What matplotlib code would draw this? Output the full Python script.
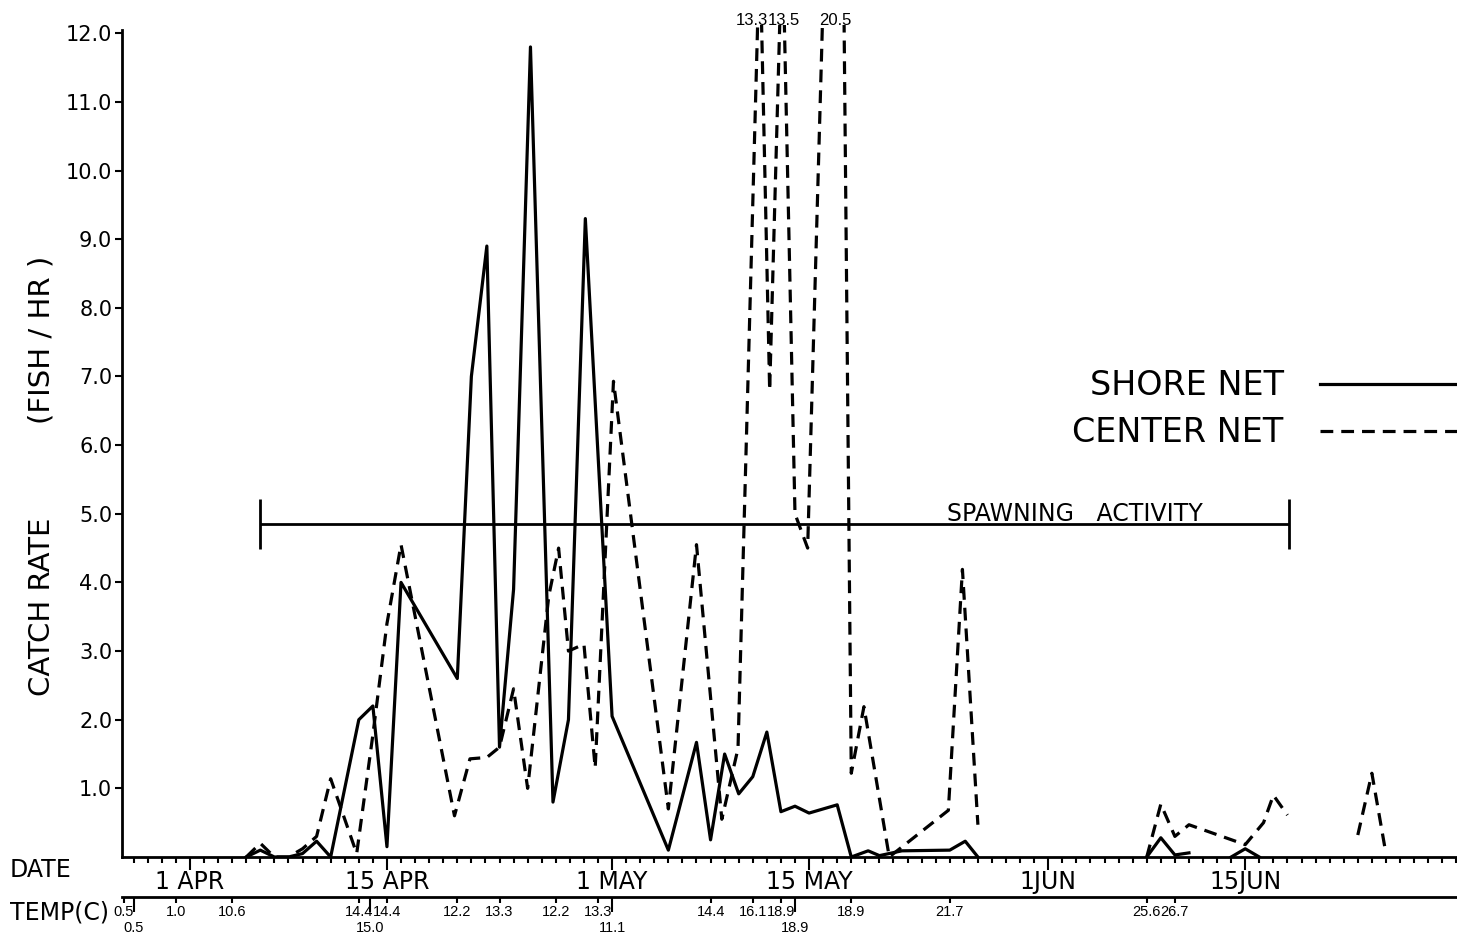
import numpy as np
import matplotlib
matplotlib.use('Agg')
import matplotlib.pyplot as plt

# x values are days counted from 1 April
shore_days = [4, 5, 6, 7, 8, 9, 10, 12, 13, 14, 15, 19, 20, 21.1, 22, 23, 24.2, 25.8, 26.9, 28.1,
              30, 34, 36, 37, 38, 39, 40, 41, 42, 43, 44, 46, 47, 48.2, 49, 50.6, 54, 55.1, 56,
              np.nan, 68, 69, 70, 71, np.nan, 74, 75, 76]
shore_rate = [0, 0.1, 0, 0, 0.05, 0.23, 0, 2.0, 2.2, 0.15, 4.0, 2.6, 7.0, 8.9, 1.6, 3.9, 11.8, 0.8, 2.0, 9.3,
              2.05, 0.1, 1.67, 0.25, 1.5, 0.92, 1.17, 1.82, 0.66, 0.74, 0.64, 0.76, 0, 0.09, 0.02, 0.09, 0.1, 0.23, 0,
              np.nan, 0, 0.28, 0.03, 0.06, np.nan, 0, 0.12, 0]

center_days = [4, 5, 6, 7, 8, 9, 10, 11.85, 13, 14, 15, 18.8, 19.9, 21.1, 22, 23, 24, 25.5, 26.2, 26.9,
               28, 28.8, 30.1, 34, 36, 37.8, 38.95, 40.5, 41.2, 42.1, 43, 43.9, 46.1, 47, 47.9, 49.7,
               53.9, 54.9, 56, np.nan, 68, 69, 70, 71, 75, 76.3, 77, 78, np.nan, 83, 84, 85]
center_rate = [0, 0.2, 0, 0, 0.12, 0.3, 1.14, 0.05, 1.78, 3.4, 4.55, 0.6, 1.43, 1.45, 1.6, 2.45, 1.0, 3.8, 4.5, 3.0,
               3.1, 1.3, 6.93, 0.7, 4.55, 0.55, 1.58, 13.3, 6.8, 13.5, 5.0, 4.5, 20.5, 1.22, 2.19, 0,
               0.68, 4.19, 0.47, np.nan, 0, 0.77, 0.3, 0.47, 0.18, 0.5, 0.9, 0.61, np.nan, 0.32, 1.22, 0.05]

# values above the top of the scale, written over their peaks
offscale_days = [40.5, 42.1, 46.1]
offscale_labels = ['13.3', '13.5', '20.5']
offscale_shift = [-8, 2, -3]   # px, to keep the labels apart

date_ticks = [0, 14, 30, 44, 61, 75]
date_labels = ['1 APR', '15 APR', '1 MAY', '15 MAY', '1JUN', '15JUN']

temp_days = [-4.7, -1, 3, 12, 14, 19, 22, 26, 29, 37, 40, 42, 47, 54, 68, 70]
temp_labels = ['0.5', '1.0', '10.6', '14.4', '14.4', '12.2', '13.3', '12.2', '13.3', '14.4',
               '16.1', '18.9', '18.9', '21.7', '25.6', '26.7']
temp_low_days = [-4.0, 12.8, 30, 43]
temp_low_labels = ['0.5', '15.0', '11.1', '18.9']

spawn_start = 5
spawn_end = 78.1
spawn_level = 4.85

W, H = 1457, 947
fig = plt.figure(figsize=(W / 100, H / 100), dpi=100)
ax = fig.add_axes([122 / W, 1 - 857 / H, 1 - 122 / W, (857 - 25) / H])

ax.plot(shore_days, shore_rate, color='black', lw=2.3, solid_joinstyle='round')
ax.plot(center_days, center_rate, color='black', lw=2.3, dashes=(4, 2.5),
        dash_joinstyle='round')

ax.set_xlim(-4.83, 90.05)
ax.set_ylim(0, 12.12)

for d, lab, sh in zip(offscale_days, offscale_labels, offscale_shift):
    ax.annotate(lab, (d, 12.12), xytext=(sh * 0.72, 3), textcoords='offset points',
                ha='center', va='center', fontsize=12, family='Liberation Sans',
                annotation_clip=False)

# spawning bar
ax.hlines(spawn_level, spawn_start, spawn_end, color='black', lw=2)
ax.vlines([spawn_start, spawn_end], spawn_level - 0.37, spawn_level + 0.37, color='black', lw=2)
ax.text(62.9, spawn_level + 0.14, 'SPAWNING   ACTIVITY', ha='center', va='center', fontsize=17)

for s in ['top', 'right']:
    ax.spines[s].set_visible(False)
for s in ['left', 'bottom']:
    ax.spines[s].set_linewidth(2)
ax.spines['left'].set_bounds(0, 12.05)

ax.set_yticks(range(1, 13))
ax.set_yticklabels(['%.1f' % v for v in range(1, 13)])
ax.tick_params(axis='y', length=5, width=1.5, labelsize=15, pad=2)

ax.set_xticks(date_ticks)
ax.set_xticklabels(date_labels)
ax.set_xticks(np.arange(-4, 91), minor=True)
ax.tick_params(axis='x', which='major', length=9.5, width=1.5, labelsize=17, pad=0)
ax.tick_params(axis='x', which='minor', length=4.5, width=1.5)

ax.legend(['SHORE NET', 'CENTER NET'], markerfirst=False, frameon=False, fontsize=24,
          handlelength=4.1, handletextpad=1.1, labelspacing=0.42, borderpad=0,
          borderaxespad=0, loc='center right', bbox_to_anchor=(1.0, 0.538))

# temperature axis
axt = fig.add_axes([122 / W, 1 - 897 / H, 1 - 122 / W, 0.0001])
axt.set_xlim(ax.get_xlim())
axt.set_yticks([])
axt.patch.set_visible(False)
for s in ['top', 'right', 'left']:
    axt.spines[s].set_visible(False)
axt.spines['bottom'].set_linewidth(2)
axt.set_xticks(temp_days)
axt.set_xticklabels(temp_labels)
axt.set_xticks(temp_low_days, minor=True)
axt.set_xticklabels(temp_low_labels, minor=True)
axt.tick_params(axis='x', which='major', length=4, width=1.5, labelsize=10.5, pad=2)
axt.tick_params(axis='x', which='minor', length=11, width=1.5, labelsize=10.5, pad=6)
for lab in axt.get_xticklabels(which='both'):
    lab.set_family('Liberation Sans')

fig.text(10 / W, 1 - 870 / H, 'DATE', fontsize=17, va='center')
fig.text(10 / W, 1 - 912 / H, 'TEMP(C)', fontsize=17, va='center')
fig.text(42 / W, 1 - 607 / H, 'CATCH RATE', fontsize=21, rotation=90, ha='center', va='center')
fig.text(42 / W, 1 - 340 / H, '(FISH / HR )', fontsize=21, rotation=90, ha='center', va='center')

fig.savefig('out.png', dpi=100)
